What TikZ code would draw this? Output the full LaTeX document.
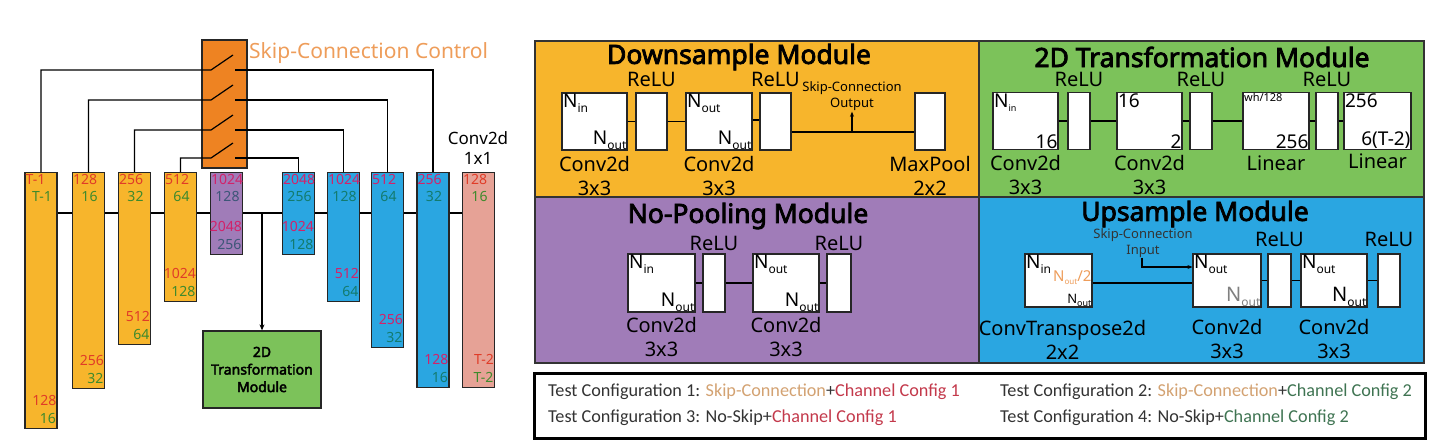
\documentclass[tikz,border=0pt]{standalone}
\usepackage{fontspec}
\setmainfont{Noto Sans}[AutoFakeBold=3]
\newfontfamily\legendfont{Carlito}
\usetikzlibrary{arrows.meta,positioning}

\definecolor{encorange}{HTML}{F7B52C}
\definecolor{switchorange}{HTML}{EE8322}
\definecolor{skiporange}{HTML}{EE9D5A}
\definecolor{decblue}{HTML}{2AA6E1}
\definecolor{botpurple}{HTML}{A07CB8}
\definecolor{outpink}{HTML}{E6A296}
\definecolor{transgreen}{HTML}{7CC25A}
\definecolor{chred}{HTML}{E03C28}
\definecolor{chgreen}{HTML}{3E8A2C}
\definecolor{chmagenta}{HTML}{D2226A}
\definecolor{chteal}{HTML}{137B6E}
\definecolor{chslate}{HTML}{3D5678}
\definecolor{cfgtan}{HTML}{D3A272}
\definecolor{cfgred}{HTML}{C3394B}
\definecolor{cfggreen}{HTML}{3F7452}

% N with a lowered index
\newcommand{\chanN}[3]{\fontsize{#2}{#2}\selectfont N\raisebox{-0.45ex}{\fontsize{#3}{#3}\selectfont #1}}

\begin{document}
\begin{tikzpicture}[x=1pt,y=-1pt,
  wire/.style={draw=black,line width=1.2pt},
  block/.style={draw=black!85,line width=1.3pt,minimum width=32pt,anchor=north,inner sep=0pt},
  chan/.style={inner sep=0pt,text height=10pt,text depth=2.5pt,font=\fontsize{14}{14}\selectfont},
  top a/.style 2 args={label={[chan,anchor=north west,xshift=1pt,yshift=-2pt,text=#1]north west:#2}},
  top b/.style 2 args={label={[chan,anchor=north,xshift=1pt,yshift=-19pt,text=#1]north:#2}},
  bot a/.style 2 args={label={[chan,anchor=south east,xshift=-1pt,yshift=21pt,text=#1]south east:#2}},
  bot b/.style 2 args={label={[chan,anchor=south east,xshift=-1.5pt,yshift=3.5pt,text=#1]south east:#2}},
  panel/.style={draw=black!80,line width=1.5pt},
  title/.style={font=\bfseries\fontsize{26.5}{28}\selectfont,inner sep=0pt},
  layer box/.style={draw=black!85,fill=white,line width=1.2pt,inner sep=0pt,minimum height=57pt},
  relu box/.style={layer box,minimum width=22pt},
  in tl/.style={label={[inner sep=1.5pt,anchor=north west]north west:#1}},
  in br/.style={label={[inner sep=1pt,anchor=south east]south east:#1}},
  modlabel/.style={font=\fontsize{20}{24}\selectfont,align=center,inner sep=0pt},
  relulabel/.style={font=\fontsize{20}{20}\selectfont,inner sep=0pt},
  note/.style={font=\fontsize{13}{16}\selectfont,align=center,inner sep=0pt},
  cfg/.style={font=\legendfont\fontsize{18.2}{20}\selectfont,text=black!80,anchor=west,inner sep=0pt}]

\useasboundingbox (0,0) rectangle (1448,445);

% ---- network ----
\node[draw=black!85,line width=1.3pt,fill=switchorange,minimum width=45pt,minimum height=128pt] (sw) at (224.5,104) {};
\node[anchor=west,text=skiporange,font=\fontsize{21}{21}\selectfont,inner sep=0pt] (swlabel) at (249,53) {Skip-Connection Control};

\node[block,fill=encorange,minimum height=256pt,top a={chred}{T-1},top b={chgreen}{T-1},bot a={chred}{128},bot b={chgreen}{16}] (b1) at (41,172) {};
\node[block,fill=encorange,minimum height=216pt,top a={chred}{128},top b={chgreen}{16},bot a={chred}{256},bot b={chgreen}{32}] (b2) at (88.5,172) {};
\node[block,fill=encorange,minimum height=172pt,top a={chred}{256},top b={chgreen}{32},bot a={chred}{512},bot b={chgreen}{64}] (b3) at (134.5,172) {};
\node[block,fill=encorange,minimum height=129pt,top a={chred}{512},top b={chgreen}{64},bot a={chred}{1024},bot b={chgreen}{128}] (b4) at (180.5,172) {};
\node[block,fill=botpurple,minimum height=82pt,top a={chmagenta}{1024},top b={chslate}{128},bot a={chmagenta}{2048},bot b={chslate}{256}] (b5) at (226.5,172) {};
\node[block,fill=decblue,minimum height=82pt,top a={chmagenta}{2048},top b={chteal}{256},bot a={chmagenta}{1024},bot b={chteal}{128}] (b6) at (298.5,172) {};
\node[block,fill=decblue,minimum height=129pt,top a={chmagenta}{1024},top b={chteal}{128},bot a={chmagenta}{512},bot b={chteal}{64}] (b7) at (343.5,172) {};
\node[block,fill=decblue,minimum height=175pt,top a={chmagenta}{512},top b={chteal}{64},bot a={chmagenta}{256},bot b={chteal}{32}] (b8) at (387.5,172) {};
\node[block,fill=decblue,minimum height=215pt,top a={chmagenta}{256},top b={chteal}{32},bot a={chmagenta}{128},bot b={chteal}{16}] (b9) at (433,172) {};
\node[block,fill=outpink,minimum height=215pt,top a={chred}{128},top b={chgreen}{16},bot a={chred}{T-2},bot b={chgreen}{T-2}] (b10) at (478.5,172) {};
\node[font=\fontsize{17}{20}\selectfont,align=center,inner sep=0pt] (outlabel) at (478,148) {Conv2d\\1x1};

\node[draw=black!85,line width=1.3pt,fill=transgreen,minimum width=118pt,minimum height=77pt,
  font=\bfseries\fontsize{14}{17.5}\selectfont,align=center,inner sep=0pt] (tm) at (262,369.5) {2D\\Transformation\\Module};

% switch contacts
\coordinate (s1l) at (211,70);  \coordinate (s1r) at (235,70);
\coordinate (s2l) at (211,100); \coordinate (s2r) at (235,100);
\coordinate (s3l) at (211,130); \coordinate (s3r) at (235,130);
\coordinate (s4l) at (211,158); \coordinate (s4r) at (235,158);

\draw[wire] (b1.north) |- (s1l) -- ++(22,-15);
\draw[wire] (s1r) -| (b9.north);
\draw[wire] (b2.north) |- (s2l) -- ++(22,-15);
\draw[wire] (s2r) -| (b8.north);
\draw[wire] (b3.north) |- (s3l) -- ++(22,-15);
\draw[wire] (s3r) -| (b7.north);
\draw[wire] (b4.north) |- (s4l) -- ++(22,-15);
\draw[wire] (s4r) -| (b6.north);

\coordinate (bus) at (0,213);
\draw[wire] (b1.east |- bus) -- (b2.west |- bus);
\draw[wire] (b2.east |- bus) -- (b3.west |- bus);
\draw[wire] (b3.east |- bus) -- (b4.west |- bus);
\draw[wire] (b4.east |- bus) -- (b5.west |- bus);
\draw[wire] (b5.east |- bus) -- (b6.west |- bus);
\draw[wire] (b6.east |- bus) -- (b7.west |- bus);
\draw[wire] (b7.east |- bus) -- (b8.west |- bus);
\draw[wire] (b8.east |- bus) -- (b9.west |- bus);
\draw[wire] (b9.east |- bus) -- (b10.west |- bus);
\draw[wire,-{Stealth[length=6pt,width=5pt]}] (tm.north |- bus) -- (tm.north);

% ---- module panels ----
\path[panel,fill=encorange] (535,41) rectangle (979,197);
\path[panel,fill=transgreen] (979,41) rectangle (1424,197);
\path[panel,fill=botpurple] (535,197) rectangle (979,363);
\path[panel,fill=decblue] (979,197) rectangle (1424,363);

% downsample
\node[title] (downtitle) at (739,57) {Downsample Module};
\node[layer box,minimum width=65pt,in tl={\chanN{in}{19}{12}},in br={\chanN{out}{19}{12}}] (d1) at (594.5,121.5) {};
\node[relu box,minimum width=31pt] (dr1) at (651.5,121.5) {};
\node[layer box,minimum width=66pt,in tl={\chanN{out}{19}{12}},in br={\chanN{out}{19}{12}}] (d2) at (719,121.5) {};
\node[relu box,minimum width=31pt] (dr2) at (775.5,121.5) {};
\node[relu box,minimum width=30pt] (dpool) at (930,121.5) {};
\node[relulabel,above=6pt of dr1] (dr1l) {ReLU};
\node[relulabel,above=6pt of dr2] (dr2l) {ReLU};
\node[modlabel,below=5pt of d1] (d1l) {Conv2d\\3x3};
\node[modlabel,below=5pt of d2] (d2l) {Conv2d\\3x3};
\node[modlabel,below=5pt of dpool] (dpooll) {MaxPool\\2x2};
\node[note] (skipout) at (852,96) {Skip-Connection\\Output};
\draw[wire] (d1) -- (dr1);
\draw[wire] (dr1) -- (d2);
\draw[wire] ([yshift=1.5pt]d2.east) -- ([yshift=1.5pt]dr2.west);
\draw[wire] ([yshift=-10.5pt]dr2.east) -- ([yshift=-10.5pt]dpool.west);
\draw[wire,-{Stealth[length=5pt,width=4pt]}] (skipout.south |- 0,132) -- ([yshift=-1pt]skipout.south);

% 2D transformation
\node[title] (transtitle) at (1202,57) {2D Transformation Module};
\node[layer box,minimum width=65pt,in tl={\chanN{in}{19}{9}},in br={\fontsize{19}{19}\selectfont 16}] (t1) at (1025.5,121) {};
\node[relu box] (tr1) at (1079,121) {};
\node[layer box,minimum width=65pt,in tl={\fontsize{19}{19}\selectfont 16},in br={\fontsize{19}{19}\selectfont 2}] (t2) at (1149.5,121) {};
\node[relu box] (tr2) at (1201,121) {};
\node[layer box,minimum width=66pt,in tl={\fontsize{11}{11}\selectfont\raisebox{-4pt}{wh/128}},in br={\fontsize{19}{19}\selectfont 256}] (t3) at (1276,121) {};
\node[relu box] (tr3) at (1327,121) {};
\node[layer box,minimum width=67pt,in tl={\fontsize{19}{19}\selectfont 256},in br={\fontsize{19}{19}\selectfont 6(T-2)}] (t4) at (1377.5,121) {};
\node[relulabel,above=5pt of tr1] (tr1l) {ReLU};
\node[relulabel,above=5pt of tr2] (tr2l) {ReLU};
\node[relulabel,above=5pt of tr3] (tr3l) {ReLU};
\node[modlabel,below=5pt of t1] (t1l) {Conv2d\\3x3};
\node[modlabel,below=5pt of t2] (t2l) {Conv2d\\3x3};
\node[modlabel,below=5pt of t3] (t3l) {Linear};
\node[modlabel,below=3pt of t4] (t4l) {Linear};
\draw[wire] (t1) -- (tr1);
\draw[wire] (tr1) -- (t2);
\draw[wire] (t2) -- (tr2);
\draw[wire] (tr2) -- (t3);
\draw[wire] (t3) -- (tr3);
\draw[wire] (tr3) -- (t4);

% no-pooling
\node[title] (pooltitle) at (748,216) {No-Pooling Module};
\node[layer box,minimum width=67pt,minimum height=58pt,in tl={\chanN{in}{19}{12}},in br={\chanN{out}{19}{12}}] (p1) at (661.5,283) {};
\node[relu box,minimum height=58pt] (pr1) at (714,283) {};
\node[layer box,minimum width=66pt,minimum height=58pt,in tl={\chanN{out}{19}{12}},in br={\chanN{out}{19}{12}}] (p2) at (786,283) {};
\node[relu box,minimum width=24pt,minimum height=58pt] (pr2) at (839,283) {};
\node[relulabel,above=3pt of pr1] (pr1l) {ReLU};
\node[relulabel,above=3pt of pr2] (pr2l) {ReLU};
\node[modlabel,below=4pt of p1] (p1l) {Conv2d\\3x3};
\node[modlabel,below=4pt of p2] (p2l) {Conv2d\\3x3};
\draw[wire] (p1) -- (pr1);
\draw[wire] (pr1) -- (p2);
\draw[wire] (p2) -- (pr2);

% upsample
\node[title] (uptitle) at (1195,214) {Upsample Module};
\node[layer box,minimum width=67pt,minimum height=53pt,in tl={\chanN{in}{19}{12}},in br={\chanN{out}{13}{9}},
  label={[inner sep=1pt,anchor=east,text=skiporange,yshift=3pt]east:\chanN{out}{15}{8}/2}] (u1) at (1058.5,280.5) {};
\node[layer box,minimum width=68pt,minimum height=53pt,in tl={\chanN{out}{19}{12}},
  label={[inner sep=1pt,anchor=south east,text=black!50]south east:\chanN{out}{20}{12}}] (u2) at (1227,280.5) {};
\node[relu box,minimum width=23pt,minimum height=53pt] (ur1) at (1279.5,280.5) {};
\node[layer box,minimum width=66pt,minimum height=53pt,in tl={\chanN{out}{19}{12}},in br={\chanN{out}{20}{12}}] (u3) at (1334,280.5) {};
\node[relu box,minimum height=53pt] (ur2) at (1389,280.5) {};
\node[relulabel,above=7pt of ur1] (ur1l) {ReLU};
\node[relulabel,above=7pt of ur2] (ur2l) {ReLU};
\node[modlabel,below=12pt of u1,xshift=4pt] (u1l) {ConvTranspose2d\\2x2};
\node[modlabel,below=11pt of u2] (u2l) {Conv2d\\3x3};
\node[modlabel,below=11pt of u3] (u3l) {Conv2d\\3x3};
\node[note,text=black!80] (skipin) at (1143,243) {Skip-Connection\\Input};
\draw[wire] ([yshift=-2.5pt]u1.east) -- ([yshift=-2.5pt]u2.west);
\draw[wire] (u2) -- (ur1);
\draw[wire] (ur1) -- (u3);
\draw[wire] (u3) -- (ur2);
\draw[wire,-{Stealth[length=5pt,width=4pt]}] ([xshift=-1pt]skipin.south) |- ([yshift=13.5pt]u2.west);

% ---- test configurations ----
\draw[line width=3pt] (534,373) rectangle (1425,438);
\node[cfg] (cfg1) at (548,392) {Test Configuration 1: \textcolor{cfgtan}{Skip-Connection}+\textcolor{cfgred}{Channel Config 1}};
\node[cfg] (cfg2) at (1000,392) {Test Configuration 2: \textcolor{cfgtan}{Skip-Connection}+\textcolor{cfggreen}{Channel Config 2}};
\node[cfg] (cfg3) at (548,418) {Test Configuration 3: No-Skip+\textcolor{cfgred}{Channel Config 1}};
\node[cfg] (cfg4) at (1000,418) {Test Configuration 4: No-Skip+\textcolor{cfggreen}{Channel Config 2}};
\end{tikzpicture}
\end{document}
